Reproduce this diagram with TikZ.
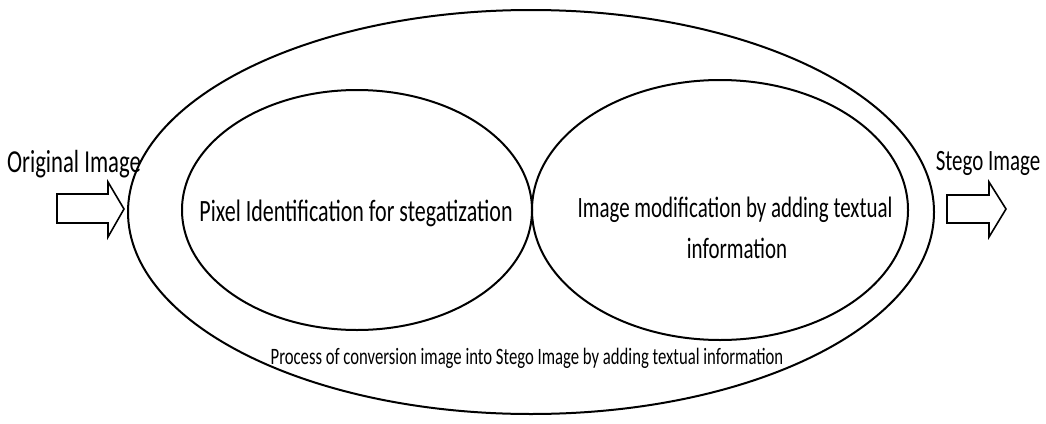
\documentclass[tikz,border=0pt]{standalone}
\usepackage{fontspec}
\setmainfont{Carlito}[FakeStretch=0.71]
\usetikzlibrary{shapes.geometric}
\begin{document}
\begin{tikzpicture}[x=1pt,y=-1pt,
  ell/.style={draw,line width=2pt},
  lbl/.style={inner sep=0pt,anchor=base},
  fatarrow/.style={draw,line width=1.6pt,fill=white}]
\useasboundingbox (0,0) rectangle (1046,423);
\draw[ell] (531,212) ellipse [x radius=403, y radius=202];
\draw[ell] (357,210) ellipse [x radius=175, y radius=120];
\draw[ell] (720,210) ellipse [x radius=188, y radius=130];
\node[lbl,font=\fontsize{32}{38}\selectfont] (orig) at (74,172) {Original Image};
\node[lbl,font=\fontsize{29.5}{36}\selectfont] (stego) at (988,170) {Stego Image};
\node[lbl,font=\fontsize{31}{37}\selectfont] (pix) at (356,221) {Pixel Identification for stegatization};
\node[lbl,font=\fontsize{29.5}{34}\selectfont] (mod1) at (735,217) {Image modification by adding textual};
\node[lbl,font=\fontsize{29.5}{34}\selectfont] (mod2) at (737,258) {information};
\node[lbl,font=\fontsize{23.5}{28}\selectfont] (proc) at (527,364) {Process of conversion image into Stego Image by adding textual information};
\draw[fatarrow] (57,194) -- (108,194) -- (108,182) -- (124,209) -- (108,237) -- (108,223) -- (57,223) -- cycle;
\draw[fatarrow] (947,195) -- (989,195) -- (989,182) -- (1006,209) -- (989,237) -- (989,223) -- (947,223) -- cycle;
\end{tikzpicture}
\end{document}
